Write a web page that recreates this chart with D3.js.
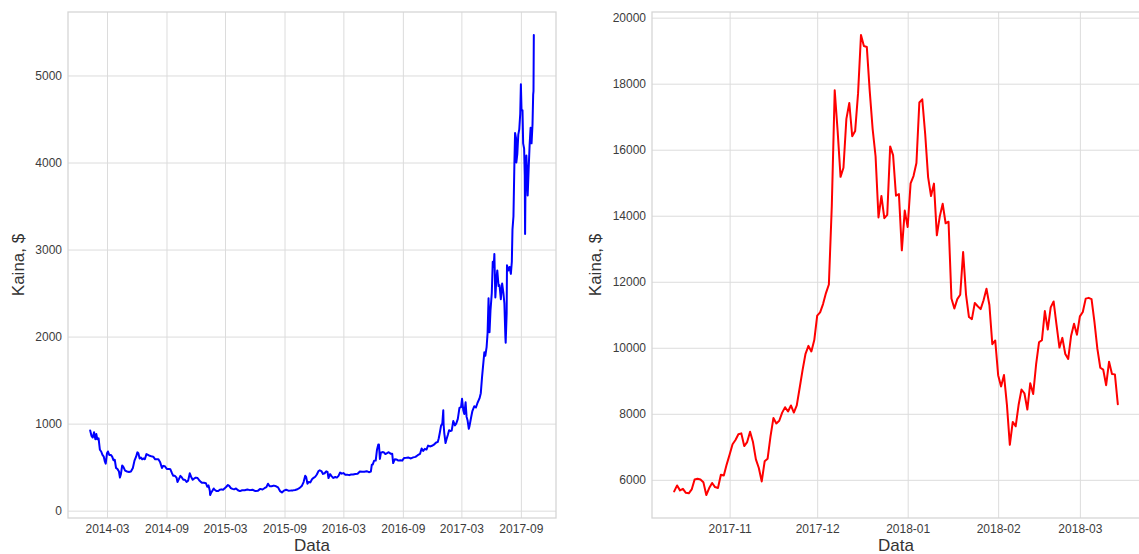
<!DOCTYPE html>
<html>
<head>
<meta charset="utf-8">
<script src="https://cdn.jsdelivr.net/npm/d3@7"></script>
<style>
  body { margin: 0; background: #ffffff; }
  svg { display: block; font-family: "Liberation Sans", Arial, sans-serif; }
</style>
</head>
<body>
<svg id="chart" width="1139" height="554"></svg>
<script>
// Long-run BTC close price, 2014-01 .. 2017-10
const historyDates = [
  "2014-01-08","2014-01-12","2014-01-16","2014-01-20","2014-01-24","2014-01-27","2014-01-30","2014-02-03",
  "2014-02-07","2014-02-11","2014-02-15","2014-02-19","2014-02-22","2014-02-25","2014-03-01","2014-03-04",
  "2014-03-08","2014-03-13","2014-03-17","2014-03-21","2014-03-25","2014-03-29","2014-04-02","2014-04-07",
  "2014-04-10","2014-04-13","2014-04-17","2014-04-21","2014-04-26","2014-05-02","2014-05-08","2014-05-14",
  "2014-05-20","2014-05-25","2014-05-30","2014-06-03","2014-06-06","2014-06-10","2014-06-14","2014-06-18",
  "2014-06-22","2014-06-26","2014-07-01","2014-07-06","2014-07-11","2014-07-16","2014-07-22","2014-07-28",
  "2014-08-02","2014-08-07","2014-08-12","2014-08-18","2014-08-22","2014-08-27","2014-09-02","2014-09-08",
  "2014-09-13","2014-09-18","2014-09-22","2014-09-27","2014-10-02","2014-10-05","2014-10-09","2014-10-14",
  "2014-10-18","2014-10-23","2014-10-28","2014-11-02","2014-11-07","2014-11-12","2014-11-16","2014-11-21",
  "2014-11-26","2014-12-01","2014-12-06","2014-12-11","2014-12-16","2014-12-20","2014-12-26","2015-01-01",
  "2015-01-05","2015-01-09","2015-01-13","2015-01-14","2015-01-17","2015-01-21","2015-01-25","2015-01-28",
  "2015-02-03","2015-02-08","2015-02-13","2015-02-18","2015-02-23","2015-03-01","2015-03-05","2015-03-10",
  "2015-03-14","2015-03-19","2015-03-24","2015-03-29","2015-04-04","2015-04-10","2015-04-16","2015-04-23",
  "2015-05-01","2015-05-09","2015-05-17","2015-05-25","2015-06-03","2015-06-11","2015-06-18","2015-06-25",
  "2015-07-01","2015-07-07","2015-07-12","2015-07-17","2015-07-23","2015-07-30","2015-08-06","2015-08-12",
  "2015-08-18","2015-08-24","2015-08-30","2015-09-06","2015-09-13","2015-09-20","2015-09-27","2015-10-04",
  "2015-10-11","2015-10-18","2015-10-25","2015-10-30","2015-11-04","2015-11-07","2015-11-11","2015-11-15",
  "2015-11-20","2015-11-25","2015-11-30","2015-12-05","2015-12-10","2015-12-15","2015-12-19","2015-12-24",
  "2015-12-29","2016-01-03","2016-01-08","2016-01-12","2016-01-15","2016-01-20","2016-01-25","2016-01-30",
  "2016-02-05","2016-02-10","2016-02-15","2016-02-20","2016-02-25","2016-03-01","2016-03-07","2016-03-13",
  "2016-03-19","2016-03-25","2016-03-31","2016-04-07","2016-04-14","2016-04-21","2016-04-28","2016-05-05",
  "2016-05-12","2016-05-19","2016-05-25","2016-05-28","2016-05-31","2016-06-04","2016-06-09","2016-06-13",
  "2016-06-17","2016-06-19","2016-06-22","2016-06-25","2016-06-30","2016-07-05","2016-07-09","2016-07-14",
  "2016-07-19","2016-07-25","2016-07-30","2016-08-02","2016-08-07","2016-08-12","2016-08-18","2016-08-24",
  "2016-08-30","2016-09-05","2016-09-12","2016-09-19","2016-09-26","2016-10-03","2016-10-10","2016-10-17",
  "2016-10-24","2016-10-29","2016-11-03","2016-11-08","2016-11-13","2016-11-18","2016-11-24","2016-11-30",
  "2016-12-06","2016-12-12","2016-12-18","2016-12-21","2016-12-24","2016-12-28","2017-01-01","2017-01-04",
  "2017-01-05","2017-01-07","2017-01-11","2017-01-14","2017-01-18","2017-01-22","2017-01-26","2017-01-30",
  "2017-02-04","2017-02-09","2017-02-13","2017-02-18","2017-02-23","2017-02-28","2017-03-03","2017-03-07",
  "2017-03-10","2017-03-14","2017-03-17","2017-03-20","2017-03-24","2017-03-26","2017-03-31","2017-04-04",
  "2017-04-10","2017-04-15","2017-04-20","2017-04-26","2017-04-30","2017-05-04","2017-05-08","2017-05-11",
  "2017-05-14","2017-05-18","2017-05-21","2017-05-24","2017-05-25","2017-05-27","2017-05-30","2017-06-03",
  "2017-06-06","2017-06-09","2017-06-11","2017-06-14","2017-06-17","2017-06-20","2017-06-24","2017-06-27",
  "2017-07-01","2017-07-05","2017-07-09","2017-07-12","2017-07-15","2017-07-16","2017-07-19","2017-07-20",
  "2017-07-24","2017-07-28","2017-08-01","2017-08-04","2017-08-06","2017-08-09","2017-08-12","2017-08-14",
  "2017-08-17","2017-08-18","2017-08-21","2017-08-24","2017-08-27","2017-08-30","2017-09-01","2017-09-03",
  "2017-09-06","2017-09-08","2017-09-11","2017-09-13","2017-09-14","2017-09-15","2017-09-18","2017-09-20",
  "2017-09-22","2017-09-25","2017-09-28","2017-10-01","2017-10-04","2017-10-07","2017-10-09","2017-10-10",
  "2017-10-11"
];
const historyPrices = [
  922, 860, 840, 900, 820, 880, 820, 830,
  700, 680, 640, 620, 570, 540, 660, 680,
  640, 640, 620, 580, 585, 490, 480, 450,
  380, 420, 520, 500, 460, 450, 445, 450,
  490, 575, 620, 670, 660, 600, 610, 590,
  600, 590, 650, 640, 630, 625, 620, 590,
  590, 590, 560, 490, 515, 510, 480, 480,
  475, 430, 400, 400, 380, 330, 360, 400,
  385, 355, 355, 330, 345, 430, 390, 355,
  370, 380, 375, 350, 330, 320, 320, 315,
  275, 290, 230, 180, 205, 230, 255, 240,
  225, 225, 240, 245, 240, 260, 275, 295,
  285, 260, 250, 245, 255, 235, 225, 235,
  235, 243, 236, 240, 225, 230, 250, 243,
  258, 270, 310, 280, 280, 288, 280, 268,
  225, 210, 230, 240, 230, 231, 233, 238,
  246, 262, 287, 328, 402, 385, 310, 330,
  325, 360, 377, 390, 416, 455, 463, 455,
  422, 430, 452, 445, 375, 420, 394, 376,
  387, 380, 400, 438, 425, 432, 412, 414,
  408, 416, 416, 422, 424, 450, 448, 448,
  454, 442, 449, 528, 531, 574, 575, 700,
  760, 760, 595, 665, 673, 668, 650, 660,
  672, 655, 655, 547, 590, 588, 575, 580,
  575, 606, 607, 610, 600, 612, 618, 637,
  652, 715, 687, 710, 702, 748, 738, 745,
  758, 780, 790, 832, 890, 975, 1000, 1154,
  990, 895, 777, 820, 870, 925, 915, 920,
  1030, 980, 1000, 1055, 1180, 1190, 1285, 1150,
  1110, 1245, 1080, 1040, 940, 970, 1070, 1145,
  1200, 1185, 1240, 1290, 1350, 1540, 1700, 1820,
  1780, 1880, 2040, 2440, 2300, 2050, 2300, 2500,
  2860, 2800, 2950, 2450, 2650, 2760, 2580, 2590,
  2430, 2610, 2500, 2380, 2000, 1930, 2270, 2820,
  2760, 2800, 2720, 2860, 3230, 3380, 4000, 4340,
  4280, 4000, 4100, 4320, 4380, 4560, 4900, 4600,
  4600, 4220, 4160, 3850, 3180, 3620, 4080, 3900,
  3620, 3920, 4200, 4400, 4220, 4440, 4780, 4820,
  5465
];
const historyTicks = ["2014-03-01","2014-09-01","2015-03-01","2015-09-01","2016-03-01","2016-09-01","2017-03-01","2017-09-01"];
const historyYTicks = [0, 1000, 2000, 3000, 4000, 5000];

// Daily BTC close price from 2017-10-13 to 2018-03-14
const recentStart = "2017-10-13";
const recentPrices = [
  5650, 5830, 5680, 5725, 5605, 5590, 5708, 6011, 6031, 6008, 5930, 5540, 5750, 5904, 5780, 5753, 6153, 6130, 6468,
  6767, 7078, 7207, 7379, 7407, 7022, 7144, 7459, 7143, 6618, 6357, 5950, 6559, 6635, 7315, 7871, 7708, 7790, 8036,
  8200, 8071, 8253, 8038, 8253, 8790, 9330, 9818, 10058, 9888, 10233,
  10975, 11074, 11323, 11657, 11916, 14291, 17800, 16569, 15178, 15455, 16936, 17415, 16408, 16564, 17706, 19475,
  19140, 19114, 17776, 16624, 15802, 13950, 14600, 13926, 14026, 16099, 15838, 14606, 14656, 12952, 14156,
  13657, 14982, 15201, 15599, 17429, 17527, 16477, 15170, 14595, 14973, 13405, 13980, 14360, 13772, 13819, 11490,
  11188, 11474, 11607, 12899, 11600, 10931, 10868, 11359, 11259, 11171, 11440, 11787, 11296, 10107, 10221,
  9171, 8830, 9174, 8277, 7060, 7754, 7621, 8265, 8736, 8621, 8129, 8926, 8598, 9494, 10166, 10233, 11112, 10551,
  11225, 11403, 10690, 10005, 10301, 9813, 9664, 10366, 10725, 10397,
  10951, 11086, 11489, 11512, 11473, 10779, 9965, 9395, 9337, 8866, 9578, 9205, 9194, 8290
];
const recentTicks = ["2017-11-01","2017-12-01","2018-01-01","2018-02-01","2018-03-01"];
const recentYTicks = [6000, 8000, 10000, 12000, 14000, 16000, 18000, 20000];

const xTitle = "Data";
const yTitle = "Kaina, $";

const svg = d3.select("#chart");
const parse = d3.utcParse("%Y-%m-%d");
const fmtMonth = d3.utcFormat("%Y-%m");

// matplotlib-style autoscale: 5% margin on both ends of the data extent
function padded(extent) {
  const span = extent[1] - extent[0];
  return [extent[0] - span * 0.05, extent[1] + span * 0.05];
}

function drawPanel(cfg) {
  const { left, top, width, height, dates, values, xTicks, yTicks, color, yTitleX } = cfg;
  const g = svg.append("g").attr("transform", `translate(${left},${top})`);

  const times = dates.map(d => d.getTime());
  const tx = padded(d3.extent(times));
  const x = d3.scaleUtc().domain([new Date(tx[0]), new Date(tx[1])]).range([0, width]);
  const y = d3.scaleLinear().domain(padded(d3.extent(values))).range([height, 0]);

  // grid + tick labels
  const xAxis = g.append("g").attr("transform", `translate(0,${height})`)
    .call(d3.axisBottom(x).tickValues(xTicks.map(parse)).tickFormat(fmtMonth)
      .tickSizeInner(-height).tickSizeOuter(0).tickPadding(6));
  const yAxis = g.append("g")
    .call(d3.axisLeft(y).tickValues(yTicks).tickFormat(d3.format("d"))
      .tickSizeInner(-width).tickSizeOuter(0).tickPadding(6));

  [xAxis, yAxis].forEach(a => {
    a.select(".domain").remove();
    a.selectAll(".tick line").attr("stroke", "#dcdcdc").attr("stroke-width", 1);
    a.selectAll(".tick text").attr("fill", "#3c3c3c").attr("font-size", 12)
      .attr("font-family", "'Liberation Sans', Arial, sans-serif");
  });

  // frame
  g.append("rect").attr("x", 0).attr("y", 0).attr("width", width).attr("height", height)
    .attr("fill", "none").attr("stroke", "#d4d4d4").attr("stroke-width", 1.25);

  // price line
  const pts = dates.map((d, i) => [d, values[i]]);
  g.append("path").datum(pts)
    .attr("fill", "none").attr("stroke", color).attr("stroke-width", 2)
    .attr("stroke-linejoin", "round").attr("stroke-linecap", "round")
    .attr("d", d3.line().x(p => x(p[0])).y(p => y(p[1])));

  // axis titles
  g.append("text").attr("x", width / 2).attr("y", 540 - top + 11)
    .attr("text-anchor", "middle").attr("font-size", 17).attr("fill", "#333")
    .text(xTitle);
  g.append("text")
    .attr("transform", `translate(${yTitleX - left},${height / 2}) rotate(-90)`)
    .attr("text-anchor", "middle").attr("font-size", 17).attr("fill", "#333")
    .text(yTitle);
}

drawPanel({
  left: 68, top: 12, width: 488, height: 506,
  dates: historyDates.map(parse), values: historyPrices,
  xTicks: historyTicks, yTicks: historyYTicks, color: "#0000ff", yTitleX: 24
});

const recentDates = recentPrices.map((_, i) => d3.utcDay.offset(parse(recentStart), i));
drawPanel({
  left: 652, top: 12, width: 488, height: 506,
  dates: recentDates, values: recentPrices,
  xTicks: recentTicks, yTicks: recentYTicks, color: "#ff0000", yTitleX: 601
});
</script>
</body>
</html>
